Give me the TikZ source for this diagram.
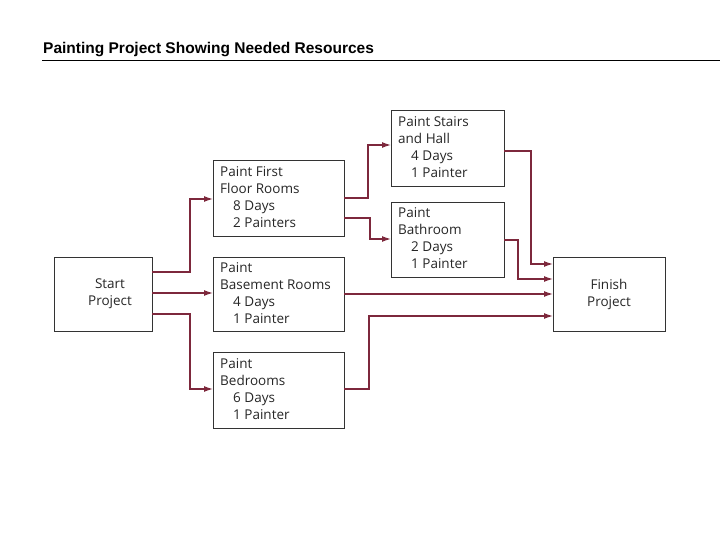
\documentclass[tikz,border=0pt]{standalone}
\usepackage{fontspec}
\setmainfont{Open Sans}
\newfontfamily\titlefont{Liberation Sans}
\begin{document}
\begin{tikzpicture}[x=1pt,y=-1pt,
  box/.style={draw=black!80,line width=0.8pt},
  txt/.style={anchor=north west,align=left,inner sep=0pt,font=\fontsize{13.5}{17}\selectfont,text=black!85},
  arr/.style={draw={rgb,255:red,125;green,40;blue,60},line width=1.3pt,-{Latex[length=9pt,width=6pt]}}]
\usetikzlibrary{arrows.meta}
\useasboundingbox (0,0) rectangle (720,540);
\node[anchor=base west,inner sep=0pt,font=\titlefont\bfseries\fontsize{15.5}{18}\selectfont] (title) at (43,54) {Painting Project Showing Needed Resources};
\draw[line width=0.6pt] (42,60) coordinate (l1) -- (720,60) coordinate (l2);
\newcommand\bx[5]{\draw[box] (#2,#3) rectangle (#4,#5); \coordinate (#1nw) at (#2,#3);}
\bx{s}{54}{257}{152}{331}
\bx{f}{213}{160}{344}{236}
\bx{b}{213}{257}{344}{331}
\bx{d}{213}{352}{344}{428}
\bx{h}{391}{110}{504}{186}
\bx{r}{391}{202}{504}{277}
\bx{e}{553}{257}{665}{331}
\node[txt,anchor=center,align=center] (st) at (110,294) {Start\\Project};
\node[txt,anchor=center,align=center] (ft) at (609,294) {Finish\\Project};
\node[txt] (a) at (220,166) {Paint First\\Floor Rooms\\\hspace*{13pt}8 Days\\\hspace*{13pt}2 Painters};
\node[txt] (b) at (220,262) {Paint\\Basement Rooms\\\hspace*{13pt}4 Days\\\hspace*{13pt}1 Painter};
\node[txt] (c) at (220,358) {Paint\\Bedrooms\\\hspace*{13pt}6 Days\\\hspace*{13pt}1 Painter};
\node[txt] (hh) at (398,116) {Paint Stairs\\and Hall\\\hspace*{13pt}4 Days\\\hspace*{13pt}1 Painter};
\node[txt] (rr) at (398,207) {Paint\\Bathroom\\\hspace*{13pt}2 Days\\\hspace*{13pt}1 Painter};
\draw[arr] (152,272) -- (190,272) -- (190,199) -- (213,199);
\draw[arr] (152,293) -- (213,293);
\draw[arr] (152,314) -- (190,314) -- (190,389) -- (213,389);
\draw[arr] (344,198) -- (368,198) -- (368,145) -- (391,145);
\draw[arr] (344,218) -- (370,218) -- (370,239) -- (391,239);
\draw[arr] (504,151) -- (531,151) -- (531,264) -- (553,264);
\draw[arr] (504,240) -- (518,240) -- (518,279) -- (553,279);
\draw[arr] (344,294) -- (553,294);
\draw[arr] (344,389) -- (369,389) -- (369,316) -- (553,316);
\end{tikzpicture}
\end{document}
